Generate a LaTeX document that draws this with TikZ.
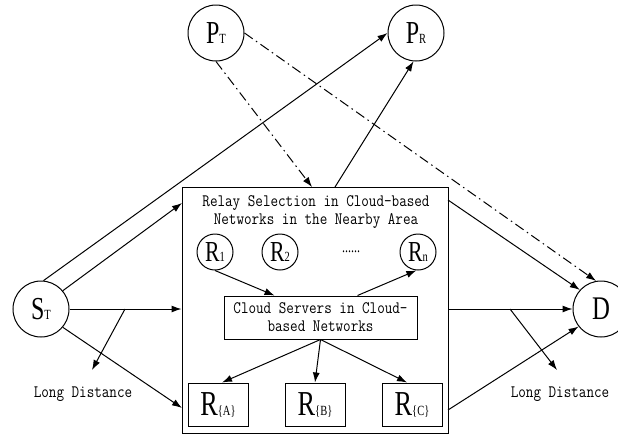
\documentclass[tikz,border=0pt]{standalone}
\usepackage{fontspec}
\newfontfamily\labelfont[FakeStretch=0.84]{Latin Modern Mono}
\newfontfamily\letterfont[FakeStretch=0.75]{Liberation Serif}
\usepackage{tikz}
\usetikzlibrary{arrows.meta,positioning,calc}
\newcommand{\bigsym}[3]{{\fontsize{#1}{#1}\letterfont #2}{\fontsize{14}{14}\letterfont #3}}

\tikzset{
  user/.style={circle,draw,line width=1pt,minimum size=56pt,inner sep=0pt},
  relay/.style={circle,draw,line width=1pt,minimum size=36pt,inner sep=0pt},
  relaybox/.style={rectangle,draw,line width=1pt,minimum width=60pt,minimum height=43pt,inner sep=0pt},
  link/.style={-{Latex[length=10pt,width=7pt]},line width=1pt},
  pilot/.style={link,dash pattern=on 10pt off 4pt on 1.5pt off 4pt},
  note/.style={font=\fontsize{17.5}{18}\labelfont,align=center,inner sep=0pt}
}

\begin{document}
\begin{tikzpicture}[x=1pt,y=-1pt]
\useasboundingbox (0,0) rectangle (618,437);

\node (S) at (41,309)[user] {\bigsym{32}{S}{T}};
\node (PT) at (216,33)[user] {\bigsym{32}{P}{T}};
\node (PR) at (416,33)[user] {\bigsym{32}{P}{R}};
\node (D) at (601,309)[user] {{\fontsize{33}{33}\letterfont D}};

\node (area) at (315,310)[rectangle,draw,line width=1pt,minimum width=266pt,minimum height=246pt] {};
\node (title) at (316,212)[note] {Relay Selection in Cloud-based\\Networks in the Nearby Area};
\node (R1) at (215,252)[relay] {\bigsym{29}{R}{1}};
\node (R2) at (280,252)[relay] {\bigsym{29}{R}{2}};
\node (dots) at (351,252)[inner sep=0pt] {\fontsize{16}{16}\letterfont ......};
\node (Rn) at (418,252)[relay] {\bigsym{29}{R}{n}};
\node (cloud) at (320.5,317.5)[rectangle,draw,line width=1pt,minimum width=193pt,minimum height=43pt,note] {Cloud Servers in Cloud-\\based Networks};
\node (RA) at (218,404.5)[relaybox] {\bigsym{35}{R}{\{A\}}};
\node (RB) at (315,404.5)[relaybox] {\bigsym{35}{R}{\{B\}}};
\node (RC) at (412,404.5)[relaybox] {\bigsym{35}{R}{\{C\}}};

\node (farL) at (83,394)[note] {Long Distance};
\node (farR) at (560,394)[note] {Long Distance};

\coordinate (inTop) at (182,203);
\coordinate (inLow) at (182,408);
\coordinate (outTop) at (448,200);
\coordinate (outLow) at (448,410);
\coordinate (brL) at (125,309);
\coordinate (endL) at (92,370);
\coordinate (brR) at (510,309);
\coordinate (endR) at (557,370);
\coordinate (pIn) at (312,187);
\coordinate (pOut) at (335,187);

\draw[link] (S.85) -- (PR.west);
\draw[link] (S.40) -- (inTop);
\draw[link] (S.east) -- (S.east -| area.west);
\draw[link] (brL) -- (endL);
\draw[link] (S.-40) -- (inLow);

\draw[link] (D.west -| area.east) -- (D.west);
\draw[link] (brR) -- (endR);
\draw[link] (outTop) -- (D.138);
\draw[link] (outLow) -- (D.218);

\draw[pilot] (PT.south) -- (pIn);
\draw[pilot] (PT.east) -- (D.100);
\draw[link] (pOut) -- (PR.265);

\draw[link] (R1.south) -- ($(cloud.north)+(-46,0)$);
\draw[link] ($(cloud.north)+(37,0)$) -- (Rn.265);
\draw[link] (cloud.south) -- ($(RA.north)+(4,0)$);
\draw[link] (cloud.south) -- (RB.north);
\draw[link] (cloud.south) -- ($(RC.north)+(-5,0)$);

\end{tikzpicture}
\end{document}
